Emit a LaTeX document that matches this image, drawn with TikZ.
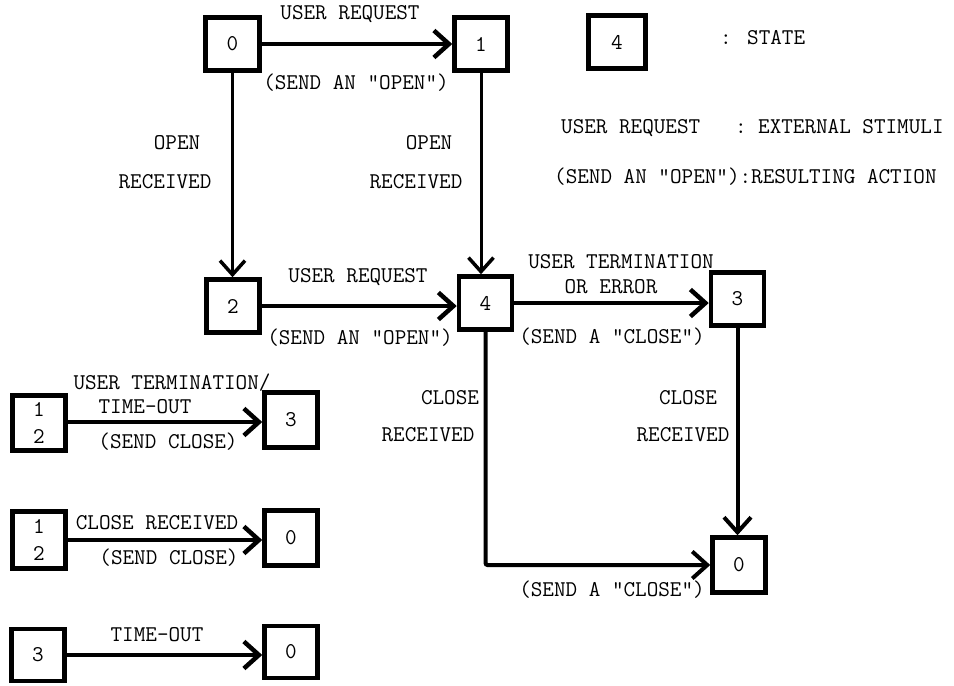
\documentclass[tikz,border=0pt]{standalone}
\usetikzlibrary{arrows.meta}
\begin{document}
\begin{tikzpicture}[x=1pt,y=-1pt,
  every node/.style={font=\fontsize{22.5}{27}\selectfont\ttfamily, inner sep=0pt},
  state/.style={draw, line width=4.5pt, minimum width=53pt, minimum height=53pt, align=center},
  arr/.style={line width=4.5pt, -{Straight Barb[length=15pt,width=27pt]}},
  varr/.style={line width=3pt, -{Straight Barb[length=14pt,width=25pt,line width=3.5pt]}},
  carr/.style={line width=4pt, -{Straight Barb[length=15pt,width=27pt]}},
  lbl/.style={anchor=center}]
\useasboundingbox (0,0) rectangle (954,686);

% main diagram states
\node[state, minimum width=54pt] (s0) at (232.5,44) {0};
\node[state] (s1) at (481,44) {1};
\node[state] (s2) at (233,306) {2};
\node[state] (s4) at (485.5,303) {4};
\node[state] (s3) at (737.5,299) {3};
\node[state, minimum height=55pt] (s0b) at (739,565) {0};

% legend
\node[state, minimum width=57pt] (leg) at (617,42) {4};
\node[anchor=west] (legstate) at (720,38) {: STATE};
\node[anchor=west] (legext) at (561,128) {USER REQUEST\ \ \ : EXTERNAL STIMULI};
\node[anchor=west] (legact) at (554,177) {(SEND AN "OPEN"):RESULTING ACTION};

% main transitions
\draw[arr] (s0) -- (s1);
\node[lbl] (t01a) at (350,14) {USER REQUEST};
\node[lbl] (t01b) at (356,83) {(SEND AN "OPEN")};

\draw[varr] (s0) -- (s0 |- s2.north);
\node[lbl] (t02a) at (177,143) {OPEN};
\node[lbl] (t02b) at (165,182) {RECEIVED};

\draw[varr] (s1) -- (s1 |- s4.north);
\node[lbl] (t14a) at (429,143) {OPEN};
\node[lbl] (t14b) at (416,182) {RECEIVED};

\draw[arr] (s2.east) -- (s4.west |- s2.east);
\node[lbl] (t24a) at (358,277) {USER REQUEST};
\node[lbl] (t24b) at (360,338) {(SEND AN "OPEN")};

\draw[arr] (s4.east) -- (s3.west |- s4.east);
\node[lbl] (t43a) at (621,262) {USER TERMINATION};
\node[lbl] (t43b) at (611,287) {OR ERROR};
\node[lbl] (t43c) at (612,337) {(SEND A "CLOSE")};

\draw[carr, rounded corners=2pt] (s4.south) |- (s0b.west);
\node[lbl] (t40a) at (450,398) {CLOSE};
\node[lbl] (t40b) at (428,435) {RECEIVED};
\node[lbl] (t40c) at (612,590) {(SEND A "CLOSE")};

\draw[carr] (s3.south) -- (s3.south |- s0b.north);
\node[lbl] (t30a) at (688,398) {CLOSE};
\node[lbl] (t30b) at (683,435) {RECEIVED};

% bottom-left summary transitions
\node[state, minimum height=55pt] (a1) at (39,423) {1\\2};
\node[state, minimum height=55pt] (a2) at (291,420) {3};
\draw[arr] (a1.east |- 0,422) coordinate (a1e) -- (a2.west |- a1e);
\node[lbl] (ta1) at (172,383) {USER TERMINATION/};
\node[lbl] (ta2) at (145,407) {TIME-OUT};
\node[lbl] (ta3) at (168,442) {(SEND CLOSE)};

\node[state, minimum height=57pt] (b1) at (39,540) {1\\2};
\node[state, minimum height=55pt] (b2) at (291,538) {0};
\draw[arr] (b1.east |- 0,540) coordinate (b1e) -- (b2.west |- b1e);
\node[lbl] (tb1) at (157,523) {CLOSE RECEIVED};
\node[lbl] (tb2) at (169,558) {(SEND CLOSE)};

\node[state, minimum height=52pt] (c1) at (38,655) {3};
\node[state, minimum height=52pt] (c2) at (291,652) {0};
\draw[arr] (c1.east |- 0,655) coordinate (c1e) -- (c2.west |- c1e);
\node[lbl] (tc1) at (157,635) {TIME-OUT};
\end{tikzpicture}
\end{document}
